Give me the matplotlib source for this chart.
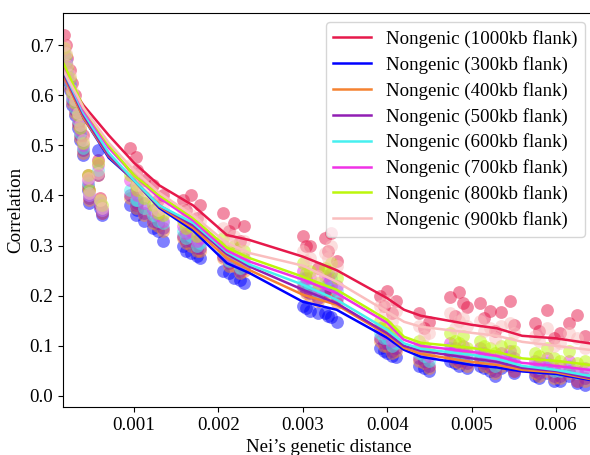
import matplotlib
matplotlib.use("Agg")
import matplotlib.pyplot as plt

plt.rcParams["font.family"] = ["Liberation Serif", "DejaVu Serif"]
plt.rcParams["font.size"] = 13.6

labels = ["Nongenic (1000kb flank)", "Nongenic (300kb flank)", "Nongenic (400kb flank)",
          "Nongenic (500kb flank)", "Nongenic (600kb flank)", "Nongenic (700kb flank)",
          "Nongenic (800kb flank)", "Nongenic (900kb flank)"]
colors = ["#e6194b", "#0000ff", "#f58231", "#911eb4", "#46f0f0", "#f032e6", "#bcf60c", "#fabebe"]

# population-pair distances (shared by all flank sizes)
dist = [0.00017, 0.00019, 0.00021, 0.00024, 0.00027, 0.00030, 0.00033, 0.00036, 0.00040, 0.00045,
        0.00047, 0.00057, 0.00060, 0.00062,
        0.00095, 0.00102, 0.00112, 0.00122, 0.00134,
        0.00158, 0.00168, 0.00178,
        0.00205, 0.00218, 0.00230,
        0.00300, 0.00308, 0.00326, 0.00334, 0.00340,
        0.00392, 0.00400, 0.00410,
        0.00438, 0.00450,
        0.00475, 0.00485, 0.00495,
        0.00510, 0.00522, 0.00535, 0.00550,
        0.00575, 0.00590, 0.00605, 0.00625,
        0.00104, 0.00128, 0.00162, 0.00174, 0.00212, 0.00225, 0.00304, 0.00318, 0.00330,
        0.00396, 0.00406, 0.00444, 0.00480, 0.00490, 0.00515, 0.00528, 0.00545,
        0.00580, 0.00598, 0.00615, 0.00635]

corr_1000 = [0.72, 0.70, 0.675, 0.65, 0.625, 0.60, 0.575, 0.55, 0.52, 0.44, 0.41, 0.47, 0.395, 0.37,
             0.495, 0.477, 0.43, 0.42, 0.40,
             0.39, 0.40, 0.38,
             0.365, 0.345, 0.34,
             0.32, 0.30, 0.315, 0.325, 0.27,
             0.20, 0.21, 0.19,
             0.165, 0.148,
             0.198, 0.208, 0.178,
             0.185, 0.17, 0.168, 0.142,
             0.146, 0.172, 0.126, 0.162,
             0.45, 0.39, 0.37, 0.355, 0.33, 0.31, 0.30, 0.255, 0.29,
             0.18, 0.165, 0.135, 0.16, 0.185, 0.155, 0.13, 0.19,
             0.13, 0.115, 0.145, 0.12]
corr_300 = [0.67, 0.655, 0.63, 0.61, 0.58, 0.56, 0.535, 0.51, 0.48, 0.41, 0.385, 0.49, 0.375, 0.36,
            0.38, 0.36, 0.35, 0.335, 0.31,
            0.30, 0.285, 0.275,
            0.25, 0.235, 0.226,
            0.18, 0.17, 0.165, 0.158, 0.148,
            0.095, 0.085, 0.078,
            0.06, 0.05,
            0.07, 0.06, 0.055,
            0.06, 0.05, 0.055, 0.045,
            0.04, 0.045, 0.03, 0.025,
            0.37, 0.33, 0.29, 0.28, 0.245, 0.232, 0.175, 0.165, 0.16,
            0.09, 0.08, 0.055, 0.065, 0.07, 0.055, 0.04, 0.06,
            0.035, 0.03, 0.04, 0.022]
corr_400 = [0.675, 0.66, 0.635, 0.615, 0.585, 0.565, 0.54, 0.515, 0.485, 0.415, 0.39, 0.44, 0.38, 0.365,
            0.395, 0.375, 0.36, 0.345, 0.33,
            0.315, 0.30, 0.29,
            0.275, 0.26, 0.25,
            0.215, 0.20, 0.205, 0.21, 0.185,
            0.11, 0.10, 0.09,
            0.07, 0.055,
            0.08, 0.065, 0.06,
            0.07, 0.055, 0.06, 0.05,
            0.045, 0.05, 0.035, 0.03,
            0.38, 0.34, 0.305, 0.29, 0.26, 0.245, 0.205, 0.19, 0.20,
            0.10, 0.085, 0.065, 0.07, 0.075, 0.06, 0.045, 0.065,
            0.04, 0.035, 0.045, 0.03]
corr_500 = [0.68, 0.665, 0.64, 0.62, 0.59, 0.57, 0.545, 0.52, 0.49, 0.42, 0.395, 0.44, 0.38, 0.365,
            0.40, 0.38, 0.365, 0.35, 0.335,
            0.32, 0.31, 0.295,
            0.28, 0.27, 0.255,
            0.22, 0.205, 0.21, 0.22, 0.195,
            0.115, 0.105, 0.095,
            0.075, 0.06,
            0.085, 0.07, 0.065,
            0.075, 0.06, 0.065, 0.05,
            0.05, 0.055, 0.04, 0.03,
            0.385, 0.345, 0.31, 0.295, 0.265, 0.25, 0.21, 0.195, 0.215,
            0.105, 0.09, 0.07, 0.075, 0.08, 0.065, 0.05, 0.07,
            0.045, 0.04, 0.05, 0.035]
corr_600 = [0.685, 0.67, 0.645, 0.625, 0.595, 0.575, 0.55, 0.525, 0.495, 0.425, 0.40, 0.45, 0.385, 0.37,
            0.41, 0.39, 0.375, 0.36, 0.345,
            0.33, 0.32, 0.305,
            0.29, 0.28, 0.265,
            0.235, 0.22, 0.225, 0.235, 0.21,
            0.125, 0.115, 0.105,
            0.085, 0.07,
            0.095, 0.08, 0.075,
            0.085, 0.07, 0.075, 0.065,
            0.06, 0.065, 0.05, 0.045,
            0.39, 0.35, 0.315, 0.30, 0.27, 0.255, 0.225, 0.205, 0.225,
            0.115, 0.10, 0.08, 0.085, 0.09, 0.075, 0.06, 0.08,
            0.055, 0.05, 0.06, 0.045]
corr_700 = [0.69, 0.675, 0.65, 0.63, 0.60, 0.58, 0.555, 0.53, 0.50, 0.43, 0.40, 0.46, 0.385, 0.37,
            0.43, 0.41, 0.385, 0.37, 0.35,
            0.34, 0.33, 0.315,
            0.30, 0.29, 0.275,
            0.25, 0.235, 0.24, 0.245, 0.22,
            0.135, 0.125, 0.115,
            0.095, 0.08,
            0.105, 0.09, 0.085,
            0.095, 0.08, 0.085, 0.075,
            0.07, 0.075, 0.06, 0.05,
            0.40, 0.36, 0.325, 0.31, 0.28, 0.265, 0.235, 0.215, 0.235,
            0.125, 0.11, 0.09, 0.095, 0.10, 0.085, 0.07, 0.09,
            0.065, 0.055, 0.07, 0.055]
corr_800 = [0.695, 0.68, 0.655, 0.635, 0.605, 0.585, 0.56, 0.535, 0.505, 0.44, 0.41, 0.465, 0.39, 0.38,
            0.44, 0.42, 0.395, 0.38, 0.36,
            0.35, 0.34, 0.33,
            0.315, 0.30, 0.29,
            0.265, 0.25, 0.255, 0.265, 0.235,
            0.15, 0.14, 0.13,
            0.11, 0.09,
            0.125, 0.105, 0.095,
            0.11, 0.095, 0.10, 0.09,
            0.085, 0.095, 0.07, 0.065,
            0.41, 0.365, 0.335, 0.32, 0.29, 0.275, 0.245, 0.225, 0.25,
            0.14, 0.125, 0.10, 0.11, 0.12, 0.10, 0.085, 0.105,
            0.08, 0.075, 0.09, 0.07]
corr_900 = [0.70, 0.685, 0.66, 0.64, 0.61, 0.59, 0.565, 0.54, 0.51, 0.435, 0.405, 0.445, 0.39, 0.375,
            0.46, 0.44, 0.41, 0.40, 0.375,
            0.37, 0.36, 0.35,
            0.335, 0.32, 0.31,
            0.29, 0.275, 0.285, 0.30, 0.26,
            0.18, 0.19, 0.17,
            0.14, 0.125,
            0.165, 0.15, 0.14,
            0.15, 0.135, 0.14, 0.125,
            0.12, 0.135, 0.105, 0.115,
            0.42, 0.37, 0.35, 0.335, 0.31, 0.29, 0.27, 0.24, 0.275,
            0.16, 0.15, 0.12, 0.135, 0.155, 0.13, 0.115, 0.145,
            0.11, 0.10, 0.125, 0.095]

# smoothed trend per flank size
fit_x = [0.00016, 0.0004, 0.0007, 0.001, 0.0013, 0.0017, 0.0021, 0.00237, 0.003, 0.0034,
         0.004, 0.0042, 0.0044, 0.005, 0.0053, 0.0056, 0.006, 0.0064]
fit_1000 = [0.64, 0.58, 0.52, 0.465, 0.42, 0.38, 0.321, 0.311, 0.278, 0.251, 0.195, 0.172, 0.16, 0.142, 0.135, 0.12, 0.115, 0.105]
fit_300 = [0.645, 0.555, 0.475, 0.43, 0.375, 0.33, 0.265, 0.245, 0.188, 0.172, 0.116, 0.092, 0.078, 0.062, 0.057, 0.049, 0.044, 0.032]
fit_400 = [0.64, 0.555, 0.478, 0.43, 0.378, 0.335, 0.275, 0.251, 0.202, 0.182, 0.122, 0.096, 0.084, 0.068, 0.062, 0.052, 0.047, 0.034]
fit_500 = [0.645, 0.56, 0.48, 0.43, 0.38, 0.34, 0.283, 0.258, 0.212, 0.185, 0.125, 0.1, 0.09, 0.075, 0.068, 0.056, 0.05, 0.036]
fit_600 = [0.65, 0.565, 0.485, 0.43, 0.38, 0.345, 0.287, 0.262, 0.222, 0.192, 0.132, 0.105, 0.094, 0.082, 0.074, 0.06, 0.052, 0.04]
fit_700 = [0.655, 0.57, 0.495, 0.44, 0.395, 0.35, 0.29, 0.268, 0.232, 0.205, 0.146, 0.112, 0.10, 0.088, 0.08, 0.066, 0.06, 0.052]
fit_800 = [0.665, 0.575, 0.50, 0.44, 0.40, 0.355, 0.296, 0.275, 0.238, 0.212, 0.152, 0.118, 0.106, 0.096, 0.088, 0.075, 0.07, 0.062]
fit_900 = [0.65, 0.575, 0.505, 0.45, 0.405, 0.36, 0.305, 0.285, 0.26, 0.228, 0.168, 0.148, 0.138, 0.126, 0.12, 0.108, 0.10, 0.092]

points = [corr_1000, corr_300, corr_400, corr_500, corr_600, corr_700, corr_800, corr_900]
fits = [fit_1000, fit_300, fit_400, fit_500, fit_600, fit_700, fit_800, fit_900]

fig = plt.figure(figsize=(5.9, 4.55), dpi=100)
ax = fig.add_axes([0.107, 0.1055, 0.901, 0.866])

for ys, c in zip(points, colors):
    ax.scatter(dist, ys, s=85, color=c, alpha=0.5, linewidths=0)
for ys, c, lab in zip(fits, colors, labels):
    ax.plot(fit_x, ys, color=c, lw=1.8, label=lab)

ax.set_xlim(0.000159, 0.00646)
ax.set_ylim(-0.022, 0.764)
ax.set_xticks([0.001, 0.002, 0.003, 0.004, 0.005, 0.006])
ax.set_xticklabels(["0.001", "0.002", "0.003", "0.004", "0.005", "0.006"])
ax.set_yticks([0.0, 0.1, 0.2, 0.3, 0.4, 0.5, 0.6, 0.7])
ax.set_yticklabels(["0.0", "0.1", "0.2", "0.3", "0.4", "0.5", "0.6", "0.7"])
ax.set_xlabel("Nei\u2019s genetic distance")
ax.set_ylabel("Correlation")
ax.spines["right"].set_visible(False)
ax.legend(loc="upper right", labelspacing=0.42)

fig.savefig("out.png", dpi=100)
